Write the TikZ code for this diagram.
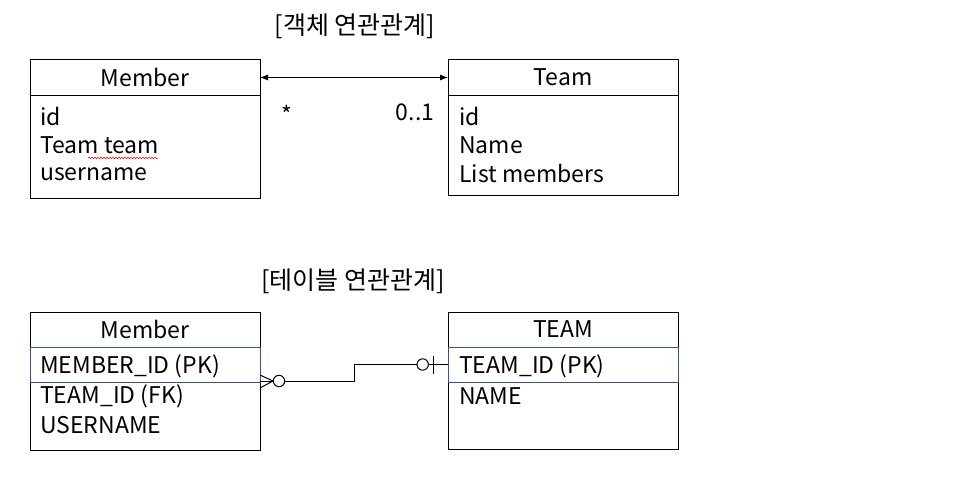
\documentclass[tikz,border=0pt]{standalone}
\usepackage{fontspec}
\setmainfont{Noto Sans CJK KR}
\usetikzlibrary{arrows.meta,decorations.pathmorphing}
\definecolor{pkblue}{HTML}{2F5597}
\tikzset{
  box/.style={draw=black, line width=1pt, minimum width=230pt, inner sep=0pt, outer sep=0pt, anchor=north west},
  pkrow/.style={draw=pkblue, line width=1pt, minimum width=230pt, minimum height=35pt, inner sep=0pt, outer sep=0pt, anchor=north west},
  hdr/.style={font=\fontsize{23}{26}\selectfont},
  attr/.style={anchor=west, font=\fontsize{23}{26}\selectfont, inner sep=0pt},
  ttl/.style={font=\fontsize{25}{28}\selectfont, inner sep=0pt},
  lbl/.style={font=\fontsize{23}{26}\selectfont, inner sep=0pt},
  lnk/.style={draw=black, line width=1pt},
}
\begin{document}
\begin{tikzpicture}[x=1pt, y=-1pt]
\useasboundingbox (0,0) rectangle (956,495);

% titles
\node[ttl] (t1) at (355,26) {[객체 연관관계]};
\node[ttl] (t2) at (353,281) {[테이블 연관관계]};

% ---- object model
\node[box, minimum height=35pt] (m1h) at (30,60) {};
\node[box, minimum height=103pt] (m1b) at (30,95) {};
\node[hdr] (m1t) at (m1h.center) {Member};
\node[attr] (m1a) at (40,116) {id};
\node[attr] (m1c) at (40,145) {Team team};
\node[attr] (m1d) at (40,174) {username};
\draw[red, line width=0.5pt, decorate, decoration={snake, amplitude=0.8pt, segment length=3pt}] (88,158) -- (158,158);

\node[box, minimum height=35pt] (t1h) at (448,60) {};
\node[box, minimum height=100pt] (t1b) at (448,95) {};
\node[hdr] (t1t) at (t1h.center) {Team};
\node[attr] (t1a) at (459,116) {id};
\node[attr] (t1c) at (459,145) {Name};
\node[attr] (t1d) at (459,173) {List members};

\draw[lnk, line width=0.8pt, {Latex[length=8pt,width=6pt]}-{Latex[length=8pt,width=6pt]}] (m1h.east) -- (t1h.west);
\node[lbl] (s1) at (287,114) {*};
\node[lbl] (s2) at (415,112) {0..1};

% ---- table model
\node[box, minimum height=35pt] (m2h) at (30,312) {};
\node[box, minimum height=103pt] (m2b) at (30,347) {};
\node[pkrow] (m2p) at (30,347) {};
\node[hdr] (m2t) at (m2h.center) {Member};
\node[attr] (m2a) at (40,366) {MEMBER\_ID (PK)};
\node[attr] (m2c) at (40,396) {TEAM\_ID (FK)};
\node[attr] (m2d) at (40,425) {USERNAME};

\node[box, minimum height=35pt] (t2h) at (448,312) {};
\node[box, minimum height=102pt] (t2b) at (448,347) {};
\node[pkrow] (t2p) at (448,347) {};
\node[hdr] (t2t) at (t2h.center) {TEAM};
\node[attr] (t2a) at (459,366) {TEAM\_ID (PK)};
\node[attr] (t2c) at (459,396) {NAME};

% relationship
\coordinate (ma) at ([yshift=1pt]m2p.south east);
\coordinate (ta) at (t2p.west);
\draw[lnk] (ma) -- ++(94,0) |- (ta);
\draw[lnk] ([yshift=6pt]ma) -- ++(13,6) -- ++(-13,7);
\draw[lnk, fill=white] ([xshift=19pt]ma) circle (5.7pt);
\draw[lnk, fill=white] ([xshift=-25.3pt]ta) circle (5.7pt);
\draw[lnk] ([xshift=-15pt, yshift=9pt]ta) -- ++(0,18);
\end{tikzpicture}
\end{document}
